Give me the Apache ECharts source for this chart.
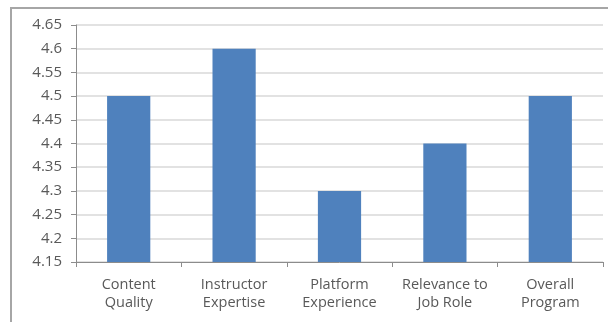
<!DOCTYPE html>
<html>
<head>
<meta charset="utf-8">
<script src="https://cdn.jsdelivr.net/npm/echarts@6/dist/echarts.min.js"></script>
<style>
  html, body { margin: 0; padding: 0; background: #fff; }
  #chart { width: 608px; height: 322px; }
</style>
</head>
<body>
<div id="chart"></div>
<script>
const categories = [
  "Content\nQuality",
  "Instructor\nExpertise",
  "Platform\nExperience",
  "Relevance to\nJob Role",
  "Overall\nProgram",
];
const scores = [4.5, 4.6, 4.3, 4.4, 4.5];
const yMin = 4.15;
const yMax = 4.65;
const yStep = 0.05;

const chart = echarts.init(document.getElementById("chart"));
chart.setOption({
  animation: false,
  textStyle: { fontFamily: "Open Sans, sans-serif" },
  graphic: [
    {
      type: "rect",
      shape: { x: 11, y: 8, width: 640, height: 340 },
      style: { fill: "none", stroke: "#a6a6a6", lineWidth: 2 },
      silent: true,
    },
  ],
  grid: { left: 76, right: 5, top: 25, bottom: 60 },
  xAxis: {
    type: "category",
    data: categories,
    axisLine: { lineStyle: { color: "#8c8c8c" } },
    axisTick: { show: true, length: 5, lineStyle: { color: "#8c8c8c" } },
    axisLabel: {
      interval: 0,
      color: "#595959",
      fontSize: 14.5,
      lineHeight: 18,
      margin: 14,
    },
  },
  yAxis: {
    type: "value",
    min: yMin,
    max: yMax,
    interval: yStep,
    axisLine: { show: true, lineStyle: { color: "#8c8c8c" } },
    axisTick: { show: true, length: 5, lineStyle: { color: "#8c8c8c" } },
    axisLabel: {
      color: "#595959",
      fontSize: 15,
      margin: 14,
      formatter: (v) => String(+v.toFixed(2)),
    },
    splitLine: { lineStyle: { color: "#d9d9d9", width: 1.5 } },
  },
  series: [
    {
      type: "bar",
      data: scores,
      barWidth: "41%",
      itemStyle: { color: "#4f81bd" },
    },
  ],
});
</script>
</body>
</html>
